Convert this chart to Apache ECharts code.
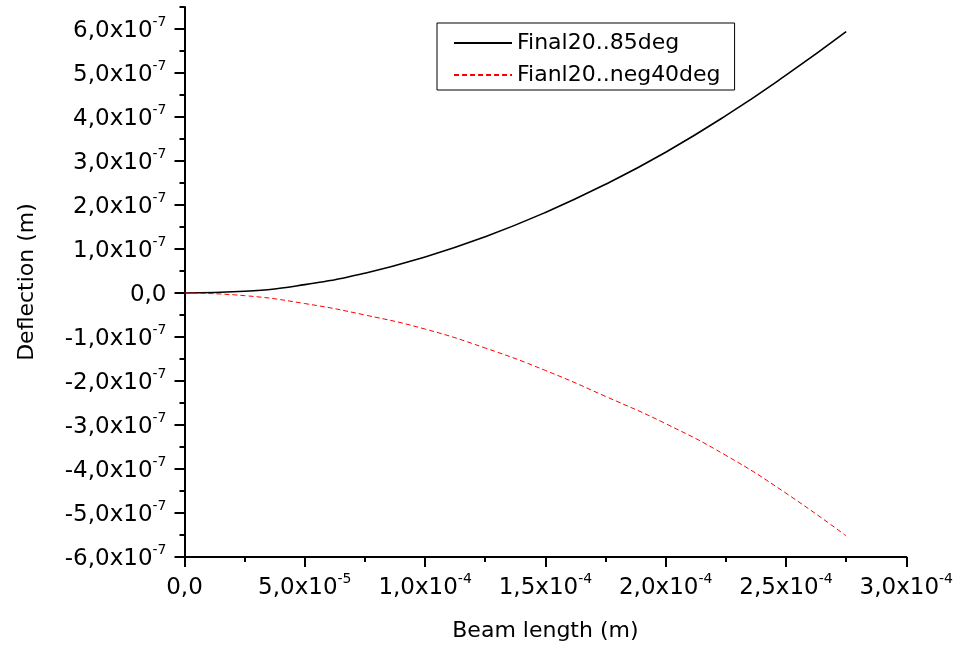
<!DOCTYPE html>
<html><head><meta charset="utf-8">
<script src="https://cdn.jsdelivr.net/npm/echarts@6/dist/echarts.min.js"></script>
<style>html,body{margin:0;padding:0;background:#fff}#c{width:956px;height:654px}</style>
</head><body><div id="c"></div>
<script>
// Beam length (m)
const beamLength = [0, 0.25e-4, 0.5e-4, 0.75e-4, 1.0e-4, 1.25e-4, 1.5e-4, 1.75e-4, 2.0e-4, 2.25e-4, 2.5e-4, 2.75e-4];
// Deflection (m)
const final85 = [0, 0.04e-7, 0.19e-7, 0.45e-7, 0.82e-7, 1.28e-7, 1.83e-7, 2.47e-7, 3.2e-7, 4.03e-7, 4.95e-7, 5.94e-7];
const neg40 = [0, -0.06e-7, -0.24e-7, -0.5e-7, -0.82e-7, -1.25e-7, -1.76e-7, -2.35e-7, -2.97e-7, -3.69e-7, -4.55e-7, -5.52e-7];
const seriesNames = ['Final20..85deg', 'Fianl20..neg40deg'];
const xName = 'Beam length (m)';
const yName = 'Deflection (m)';

const FONT = 'DejaVu Sans';
function sci(v) {
  if (Math.abs(v) < 1e-15) return '{m|0,0}';
  const s = v.toExponential(1);
  const parts = s.split('e');
  return '{m|' + parts[0].replace('.', ',') + 'x10}{e|' + parseInt(parts[1], 10) + '}';
}
const rich = {
  m: {fontSize: 23, fontFamily: FONT, color: '#000', lineHeight: 28, verticalAlign: 'bottom'},
  e: {fontSize: 14, fontFamily: FONT, color: '#000', lineHeight: 16, verticalAlign: 'top', padding: [0, 0, 0, 0]}
};
const axisLine = {show: true, onZero: false, lineStyle: {color: '#000', width: 2}};

const chart = echarts.init(document.getElementById('c'));
chart.setOption({
  animation: false,
  backgroundColor: '#fff',
  grid: [
    {left: 184.5, right: 49, top: 7, bottom: 97, containLabel: false},
    {left: 184.5, right: 49, top: 29, bottom: 97, containLabel: false}
  ],
  legend: {
    data: seriesNames,
    orient: 'vertical',
    left: 437, top: 23,
    borderColor: '#000', borderWidth: 1,
    padding: [9, 14, 4, 16],
    itemWidth: 58, itemHeight: 12, itemGap: 10,
    itemStyle: {color: 'rgba(0,0,0,0)', borderColor: 'rgba(0,0,0,0)', borderWidth: 0, opacity: 0},
    textStyle: {fontSize: 22, fontFamily: FONT, color: '#000'}
  },
  xAxis: [{
    gridIndex: 0, type: 'value', min: 0, max: 3e-4, interval: 0.5e-4,
    axisLine: axisLine,
    axisTick: {show: true, inside: false, length: 10, lineStyle: {color: '#000', width: 2}},
    minorTick: {show: true, splitNumber: 2, length: 5, lineStyle: {color: '#000', width: 2}},
    splitLine: {show: false}, minorSplitLine: {show: false},
    axisLabel: {margin: 15, formatter: sci, rich: rich},
    name: xName, nameLocation: 'middle', nameGap: 63,
    nameTextStyle: {fontSize: 22, fontFamily: FONT, color: '#000'}
  }, {
    gridIndex: 1, type: 'value', min: 0, max: 3e-4, show: false
  }],
  yAxis: [{
    gridIndex: 0, type: 'value', min: -6e-7, max: 6.5e-7, interval: 0.5e-7,
    axisLine: axisLine,
    axisTick: {show: true, inside: false, length: 5, lineStyle: {color: '#000', width: 2}},
    splitLine: {show: false},
    axisLabel: {show: false},
    name: yName, nameLocation: 'middle', nameGap: 146,
    nameTextStyle: {fontSize: 22, fontFamily: FONT, color: '#000'}
  }, {
    gridIndex: 1, type: 'value', min: -6e-7, max: 6e-7, interval: 1e-7,
    axisLine: {show: false, onZero: false},
    axisTick: {show: true, inside: false, length: 10, lineStyle: {color: '#000', width: 2}},
    splitLine: {show: false},
    axisLabel: {margin: 18, formatter: sci, rich: rich}
  }],
  series: [{
    name: seriesNames[0], type: 'line', xAxisIndex: 0, yAxisIndex: 0,
    data: beamLength.map((x, i) => [x, final85[i]]),
    symbol: 'none', smooth: true,
    lineStyle: {color: '#000', width: 1.6, type: 'solid'},
    itemStyle: {color: '#000'}
  }, {
    name: seriesNames[1], type: 'line', xAxisIndex: 0, yAxisIndex: 0,
    data: beamLength.map((x, i) => [x, neg40[i]]),
    symbol: 'none', smooth: true,
    lineStyle: {color: '#ff0000', width: 1, type: [5, 3]},
    itemStyle: {color: '#ff0000'}
  }]
});
</script>
</body></html>
